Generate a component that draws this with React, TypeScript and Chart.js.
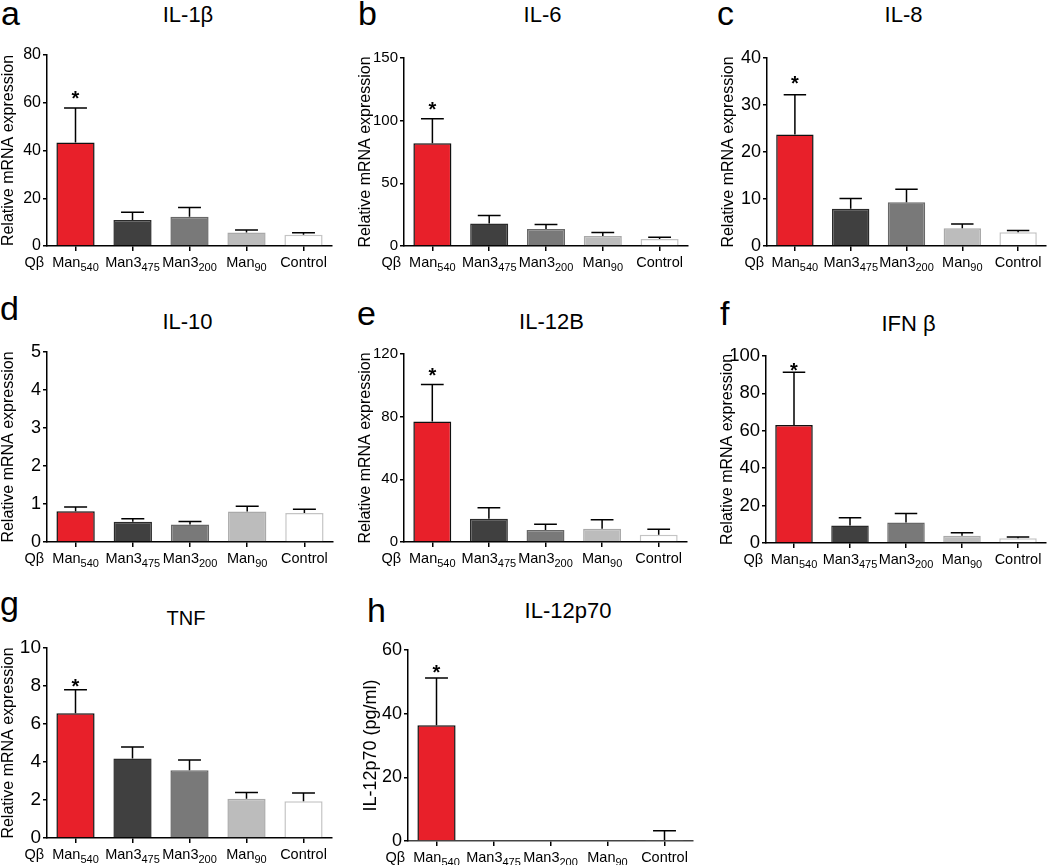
import React, { useEffect, useRef } from "react";
import { Chart, registerables } from "chart.js";
Chart.register(...registerables);

const FONT = "'Liberation Sans', Arial, Helvetica, sans-serif";

// Category labels (main part + subscript)
const groupNames = ["Man", "Man3", "Man3", "Man", "Control"];
const groupSubs = ["540", "475", "200", "90", ""];
const prefixLabel = "Qβ";

// Bar styling per group
const barFills = ["#e8202a", "#404040", "#797979", "#bcbcbc", "#ffffff"];
const barBorders = ["#111111", "#2a2a2a", "#686868", "#a9a9a9", "#c4c4c4"];

// Data (mean and SEM)
const il1bMean = [43.4, 10.9, 12.3, 5.7, 4.7];
const il1bSem = [14.4, 3.2, 3.8, 1.0, 0.9];
const il6Mean = [82.0, 17.9, 13.6, 8.0, 5.6];
const il6Sem = [19.6, 6.4, 3.5, 2.7, 1.3];
const il8Mean = [23.7, 7.9, 9.3, 3.8, 2.9];
const il8Sem = [8.5, 2.2, 2.8, 0.9, 0.4];
const il10Mean = [0.81, 0.53, 0.46, 0.8, 0.76];
const il10Sem = [0.11, 0.08, 0.08, 0.14, 0.1];
const il12bMean = [76.9, 14.9, 7.6, 8.5, 4.7];
const il12bSem = [23.7, 7.0, 3.7, 5.7, 3.4];
const ifnbMean = [63.1, 9.4, 11.0, 3.9, 2.5];
const ifnbSem = [28.2, 4.1, 4.8, 1.6, 0.7];
const tnfMean = [6.56, 4.18, 3.56, 2.07, 1.93];
const tnfSem = [1.24, 0.61, 0.54, 0.33, 0.44];
const il12p70Mean = [36.4, 0, 0, 0, 0.3];
const il12p70Sem = [14.8, 0, 0, 0, 2.9];

const panelLetters = ["a", "b", "c", "d", "e", "f", "g", "h"];
const panelTitles = ["IL-1β", "IL-6", "IL-8", "IL-10", "IL-12B", "IFN β", "TNF", "IL-12p70"];
const mrnaTitle = "Relative mRNA expression";
const p70Title = "IL-12p70 (pg/ml)";
const yMaxes = [80, 150, 40, 5, 120, 100, 10, 60];
const ySteps = [20, 50, 10, 1, 40, 20, 2, 20];
const significant = "*";

type Layout = {
  rowTop: number; axisX: number; topY: number; zeroY: number; endX: number;
  titleX: number; titleY: number; titleSize: number; letterX: number; letterBase: number;
  tickSize: number; yTitleSize: number; starGap: number;
};

const layouts: Layout[] = [
  { rowTop: 0, axisX: 47, topY: 55, zeroY: 246, endX: 332, titleX: 188, titleY: 15, titleSize: 22, letterX: 1, letterBase: 25, tickSize: 16, yTitleSize: 16, starGap: 15 },
  { rowTop: 0, axisX: 404, topY: 58, zeroY: 246, endX: 688, titleX: 542.5, titleY: 15, titleSize: 22, letterX: 358, letterBase: 25, tickSize: 15, yTitleSize: 16, starGap: 14 },
  { rowTop: 0, axisX: 767, topY: 58, zeroY: 246, endX: 1046, titleX: 903.5, titleY: 15, titleSize: 22, letterX: 717, letterBase: 25, tickSize: 18, yTitleSize: 16, starGap: 16 },
  { rowTop: 290, axisX: 47, topY: 352, zeroY: 542, endX: 333, titleX: 187.5, titleY: 322, titleSize: 22, letterX: 0, letterBase: 320, tickSize: 18, yTitleSize: 16, starGap: 14 },
  { rowTop: 290, axisX: 404, topY: 354, zeroY: 542, endX: 687, titleX: 551.5, titleY: 322, titleSize: 22, letterX: 357, letterBase: 325, tickSize: 15, yTitleSize: 16, starGap: 14 },
  { rowTop: 290, axisX: 766, topY: 356, zeroY: 543, endX: 1046, titleX: 908.5, titleY: 324, titleSize: 22, letterX: 720, letterBase: 325, tickSize: 18.5, yTitleSize: 16, starGap: 7 },
  { rowTop: 580, axisX: 47, topY: 648, zeroY: 838, endX: 332, titleX: 186, titleY: 618, titleSize: 20, letterX: 0, letterBase: 615, tickSize: 19, yTitleSize: 16, starGap: 8 },
  { rowTop: 580, axisX: 408, topY: 650, zeroY: 841, endX: 693, titleX: 568, titleY: 611, titleSize: 22, letterX: 367, letterBase: 622, tickSize: 18, yTitleSize: 18, starGap: 11 },
];

const means = [il1bMean, il6Mean, il8Mean, il10Mean, il12bMean, ifnbMean, tnfMean, il12p70Mean];
const sems = [il1bSem, il6Sem, il8Sem, il10Sem, il12bSem, ifnbSem, tnfSem, il12p70Sem];
const starFlags = [true, true, true, false, true, true, true, true];

const Y_AXIS_W = 47;
const X_AXIS_H = 35;
const RIGHT_PAD = 4;

function Panel({ idx }: { idx: number }) {
  const ref = useRef<HTMLCanvasElement>(null);
  const L = layouts[idx];
  const left = L.axisX - Y_AXIS_W;
  const width = L.endX - left + RIGHT_PAD;
  const height = L.zeroY - L.rowTop + X_AXIS_H;

  useEffect(() => {
    const canvas = ref.current;
    if (!canvas) return;
    const mean = means[idx];
    const sem = sems[idx];
    const overlay = {
      id: "overlay",
      afterDatasetsDraw(chart: any) {
        const ctx = chart.ctx;
        const xs = chart.scales.x;
        const ys = chart.scales.y;
        const meta = chart.getDatasetMeta(0);
        ctx.save();
        ctx.strokeStyle = "#000";
        ctx.lineWidth = 1.5;
        mean.forEach((m: number, i: number) => {
          if (!sem[i]) return;
          const x = xs.getPixelForValue(i);
          const yb = ys.getPixelForValue(m);
          const yt = ys.getPixelForValue(m + sem[i]);
          const half = Math.min(11.5, meta.data[i].width * 0.3);
          ctx.beginPath();
          ctx.moveTo(x, yb);
          ctx.lineTo(x, yt);
          ctx.moveTo(x - half, yt);
          ctx.lineTo(x + half, yt);
          ctx.stroke();
        });
        if (starFlags[idx]) {
          const x = xs.getPixelForValue(0);
          const yt = ys.getPixelForValue(mean[0] + sem[0]);
          ctx.fillStyle = "#000";
          ctx.font = `bold 20px ${FONT}`;
          ctx.textAlign = "center";
          ctx.textBaseline = "alphabetic";
          ctx.fillText(significant, x, yt - L.starGap + 11.5);
        }
        ctx.restore();
      },
      afterDraw(chart: any) {
        const ctx = chart.ctx;
        const xs = chart.scales.x;
        const area = chart.chartArea;
        const base = area.bottom + 21;
        ctx.save();
        ctx.fillStyle = "#000";
        ctx.textBaseline = "alphabetic";
        const mainFont = `14.5px ${FONT}`;
        const subFont = `11px ${FONT}`;
        groupNames.forEach((name, i) => {
          const x = xs.getPixelForValue(i);
          ctx.font = mainFont;
          const w1 = ctx.measureText(name).width;
          ctx.font = subFont;
          const w2 = groupSubs[i] ? ctx.measureText(groupSubs[i]).width : 0;
          const start = x - (w1 + w2) / 2;
          ctx.textAlign = "left";
          ctx.font = mainFont;
          ctx.fillText(name, start, base);
          if (groupSubs[i]) {
            ctx.font = subFont;
            ctx.fillText(groupSubs[i], start + w1, base + 3.5);
          }
        });
        ctx.font = mainFont;
        ctx.textAlign = "right";
        ctx.fillText(prefixLabel, area.left - 3, base);
        ctx.restore();
      },
    };

    const isP70 = idx === 7;
    const chart = new Chart(canvas, {
      type: "bar",
      data: {
        labels: groupNames.map((n, i) => n + groupSubs[i]),
        datasets: [
          {
            data: mean,
            backgroundColor: barFills,
            borderColor: barBorders,
            borderWidth: 1.5,
            categoryPercentage: 1,
            barPercentage: 0.67,
          },
        ],
      },
      options: {
        animation: false,
        responsive: false,
        maintainAspectRatio: false,
        events: [],
        layout: { padding: { top: L.topY - L.rowTop, right: RIGHT_PAD, bottom: 0, left: 0 } },
        plugins: { legend: { display: false }, tooltip: { enabled: false }, title: { display: false } },
        scales: {
          x: {
            type: "category",
            offset: true,
            grid: { display: true, offset: false, drawOnChartArea: false, drawTicks: true, tickLength: 5, color: "#000", lineWidth: 1.5 },
            border: { display: true, color: isP70 ? "#444" : "#000", width: 1.5, dash: isP70 ? [2, 1.5] : [] },
            ticks: { display: false },
            afterFit: (s: any) => { s.height = X_AXIS_H; },
          },
          y: {
            min: 0,
            max: yMaxes[idx],
            ticks: { stepSize: ySteps[idx], color: "#000", padding: 2, font: { family: FONT, size: L.tickSize } },
            grid: { display: true, drawOnChartArea: false, drawTicks: true, tickLength: 4, color: "#000", lineWidth: 1.5 },
            border: { display: true, color: "#000", width: 1.5 },
            title: {
              display: true,
              text: isP70 ? p70Title : mrnaTitle,
              color: "#000",
              font: { family: FONT, size: L.yTitleSize, lineHeight: 1 },
              padding: { top: 1, bottom: 0 },
            },
            afterFit: (s: any) => { s.width = Y_AXIS_W; },
          },
        },
      } as any,
      plugins: [overlay],
    });
    return () => chart.destroy();
  }, [idx]);

  return (
    <canvas
      ref={ref}
      width={width}
      height={height}
      style={{ position: "absolute", left, top: L.rowTop, width, height }}
    />
  );
}

export default function App() {
  return (
    <div style={{ position: "fixed", left: 0, top: 0, width: 1050, height: 865, background: "#fff", overflow: "hidden", fontFamily: FONT }}>
      {layouts.map((L, i) => (
        <React.Fragment key={i}>
          <div style={{ position: "absolute", left: L.letterX, top: L.letterBase - 29, fontSize: 34, lineHeight: 1, color: "#000" }}>
            {panelLetters[i]}
          </div>
          <div
            style={{
              position: "absolute",
              left: L.titleX,
              top: L.titleY + 0.358 * L.titleSize - 0.847 * L.titleSize,
              transform: "translateX(-50%)",
              fontSize: L.titleSize,
              lineHeight: 1,
              whiteSpace: "nowrap",
              color: "#000",
            }}
          >
            {panelTitles[i]}
          </div>
          <Panel idx={i} />
        </React.Fragment>
      ))}
    </div>
  );
}
